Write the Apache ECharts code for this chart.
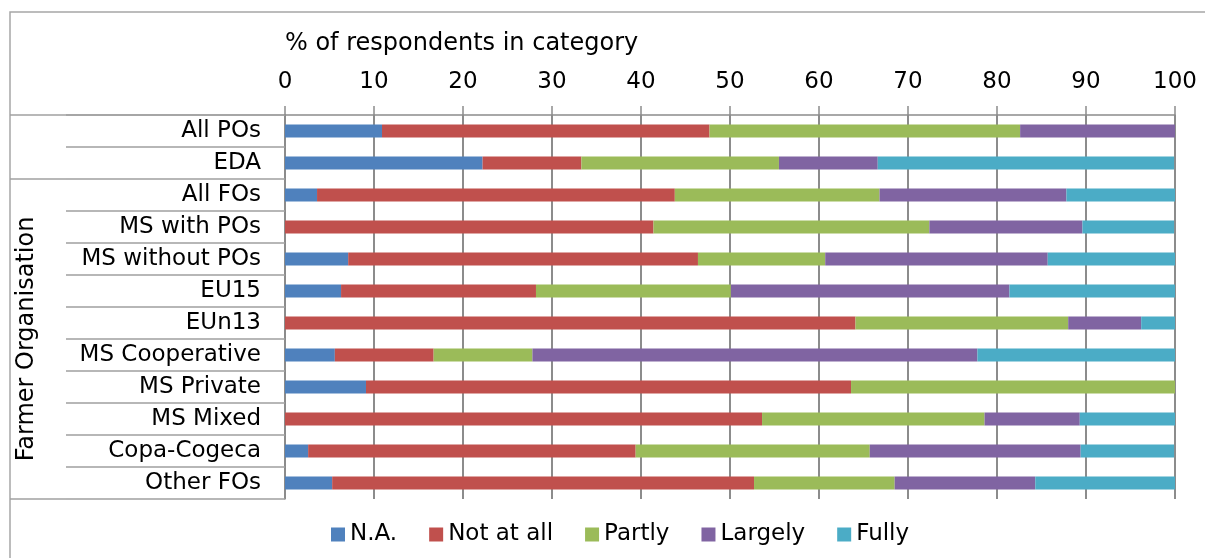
<!DOCTYPE html>
<html>
<head>
<meta charset="utf-8">
<script src="https://cdn.jsdelivr.net/npm/echarts@6/dist/echarts.min.js"></script>
<style>
  html, body { margin: 0; padding: 0; background: #fff; }
  #main { width: 1205px; height: 558px; }
</style>
</head>
<body>
<div id="main"></div>
<script>
// categories, top to bottom
var categories = ['All POs', 'EDA', 'All FOs', 'MS with POs', 'MS without POs', 'EU15',
    'EUn13', 'MS Cooperative', 'MS Private', 'MS Mixed', 'Copa-Cogeca', 'Other FOs'];

// % of respondents per answer
var naValues       = [10.9, 22.2,  3.6,  0,    7.1,  6.3,  0,    5.6,  9.1,  0,    2.6,  5.3];
var notAtAllValues = [36.8, 11.1, 40.2, 41.4, 39.3, 21.9, 64.1, 11.1, 54.5, 53.6, 36.8, 47.4];
var partlyValues   = [34.9, 22.2, 23.0, 31.0, 14.3, 21.9, 23.9, 11.1, 36.4, 25.0, 26.3, 15.8];
var largelyValues  = [17.4, 11.1, 21.0, 17.2, 25.0, 31.3,  8.2, 50.0,  0,   10.7, 23.7, 15.8];
var fullyValues    = [ 0,   33.3, 12.2, 10.3, 14.3, 18.8,  3.8, 22.2,  0,   10.7, 10.5, 15.8];

var seriesNames = ['N.A.', 'Not at all', 'Partly', 'Largely', 'Fully'];
var seriesData = [naValues, notAtAllValues, partlyValues, largelyValues, fullyValues];
var colors = ['#4F81BD', '#C0504D', '#9BBB59', '#8064A2', '#4BACC6'];

var groupLabel = 'Farmer Organisation';
var axisTitle = '% of respondents in category';

var font = 'DejaVu Sans';
var lineGray = '#8c8c8c';

var myChart = echarts.init(document.getElementById('main'));

var series = [];
for (var i = 0; i < seriesNames.length; i++) {
    series.push({
        name: seriesNames[i],
        type: 'bar',
        stack: 'total',
        barWidth: 13,
        itemStyle: { color: colors[i] },
        data: seriesData[i]
    });
}

var option = {
    animation: false,
    color: colors,
    textStyle: { fontFamily: font },
    grid: { left: 285, right: 30, top: 115, bottom: 59 },
    legend: {
        left: 326,
        top: 518,
        icon: 'rect',
        itemWidth: 14,
        itemHeight: 14,
        itemGap: 32,
        textStyle: { fontSize: 23, color: '#000', fontFamily: font },
        data: seriesNames
    },
    xAxis: {
        type: 'value',
        position: 'top',
        min: 0,
        max: 100,
        interval: 10,
        axisLine: { show: true, lineStyle: { color: lineGray, width: 1.5 } },
        axisTick: { show: true, length: 9, lineStyle: { color: lineGray, width: 1.5 } },
        axisLabel: { fontSize: 23, color: '#000', margin: 21 },
        splitLine: { show: true, lineStyle: { color: lineGray, width: 2 } }
    },
    yAxis: {
        type: 'category',
        inverse: true,
        data: categories,
        axisLine: { show: true, lineStyle: { color: lineGray, width: 1.5 } },
        axisTick: { show: true, length: 219, lineStyle: { color: '#a0a0a0', width: 1.5 } },
        axisLabel: { fontSize: 23, color: '#000', margin: 24 }
    },
    series: series
};

myChart.setOption(option);

// table decoration: outer frame, group separators, group label
var rowY = categories.map(function (c) {
    return myChart.convertToPixel({ yAxisIndex: 0 }, c);
});
var tableTop = 115;
var groupBreak = (rowY[1] + rowY[2]) / 2;
var tableBottom = rowY[rowY.length - 1] + (rowY[1] - rowY[0]) / 2;
var frameStyle = { stroke: '#a0a0a0', lineWidth: 1.5 };

myChart.setOption({
    graphic: [
        { type: 'rect', shape: { x: 10, y: 12, width: 1230, height: 600 }, style: { fill: null, stroke: '#a6a6a6', lineWidth: 1.5 }, silent: true },
        { type: 'line', shape: { x1: 10, y1: tableTop, x2: 285, y2: tableTop }, style: frameStyle },
        { type: 'line', shape: { x1: 10, y1: groupBreak, x2: 66, y2: groupBreak }, style: frameStyle },
        { type: 'line', shape: { x1: 10, y1: tableBottom, x2: 66, y2: tableBottom }, style: frameStyle },
        {
            type: 'text',
            left: 285,
            top: 32,
            style: { text: axisTitle, font: '24px "DejaVu Sans"', fill: '#000' }
        },
        {
            type: 'text',
            x: 27,
            y: (groupBreak + tableBottom) / 2,
            rotation: Math.PI / 2,
            style: {
                text: groupLabel,
                font: '24px "DejaVu Sans"',
                fill: '#000',
                align: 'center',
                verticalAlign: 'middle'
            }
        }
    ]
});
</script>
</body>
</html>
